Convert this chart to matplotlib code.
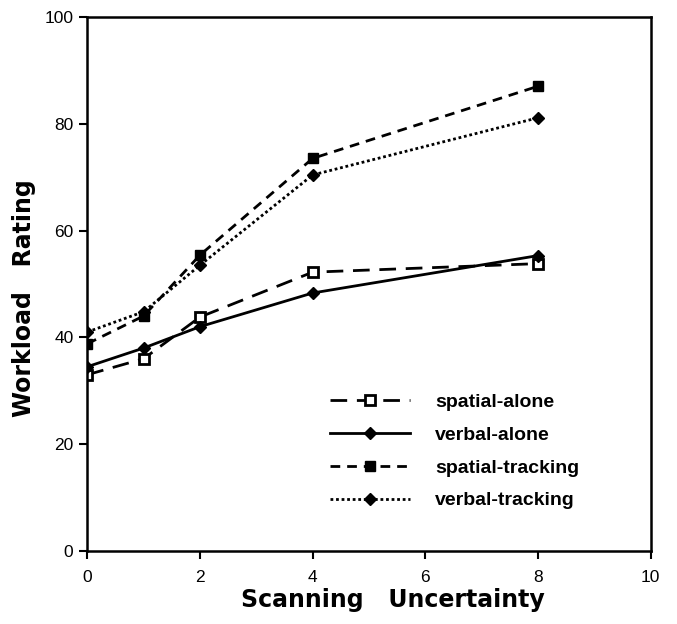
import matplotlib.pyplot as plt

# Scanning uncertainty levels
uncertainty = [0, 1, 2, 4, 8]

# Workload ratings
spatial_alone = [33, 36, 43.8, 52.2, 53.8]
verbal_alone = [34.5, 38, 42, 48.3, 55.3]
spatial_tracking = [38.8, 44, 55.4, 73.5, 87]
verbal_tracking = [41, 44.8, 53.5, 70.4, 81.1]

x_ticks = [0, 2, 4, 6, 8, 10]
y_ticks = [0, 20, 40, 60, 80, 100]

plt.rcParams['font.family'] = ['Liberation Sans', 'DejaVu Sans']

fig = plt.figure(figsize=(6.77, 6.24), dpi=100)
ax = fig.add_axes([0.129, 0.117, 0.832, 0.856])

lw = 2.0
ax.plot(uncertainty, spatial_alone, color='black', lw=lw, dashes=(6, 3.5),
        marker='s', ms=7.5, mfc='white', mec='black', mew=2, label='spatial-alone')
ax.plot(uncertainty, verbal_alone, color='black', lw=lw, linestyle='-',
        marker='D', ms=6.5, label='verbal-alone')
ax.plot(uncertainty, spatial_tracking, color='black', lw=lw, dashes=(3.5, 2.5),
        marker='s', ms=7.5, label='spatial-tracking')
ax.plot(uncertainty, verbal_tracking, color='black', lw=lw, dashes=(1, 1),
        marker='D', ms=6.5, label='verbal-tracking')

ax.set_xlim(0, 10)
ax.set_ylim(0, 100)
ax.set_xticks(x_ticks)
ax.set_yticks(y_ticks)
ax.tick_params(direction='out', length=6, width=1.5, labelsize=12.5)
ax.tick_params(axis='x', pad=8)
ax.tick_params(axis='y', pad=4)
for side in ['left', 'bottom', 'top', 'right']:
    ax.spines[side].set_linewidth(1.8)

# axis titles are spaced out in the original, DejaVu bold is wide enough to mimic it
label_font = {'family': 'DejaVu Sans', 'weight': 'bold', 'size': 17}
ax.set_xlabel('Scanning   Uncertainty', fontdict=label_font)
ax.xaxis.label.set_va('top')
ax.xaxis.set_label_coords(0.542, -0.07)
ax.set_ylabel('Workload   Rating', fontdict=label_font)
ax.yaxis.label.set_va('center')
ax.yaxis.set_label_coords(-0.112, 0.473)

ax.legend(loc='upper left', bbox_to_anchor=(0.431, 0.295), frameon=False,
          prop={'weight': 'bold', 'size': 14}, handlelength=4.1,
          handletextpad=1.3, labelspacing=0.78, borderpad=0, borderaxespad=0)

fig.savefig('out.png', dpi=100)
